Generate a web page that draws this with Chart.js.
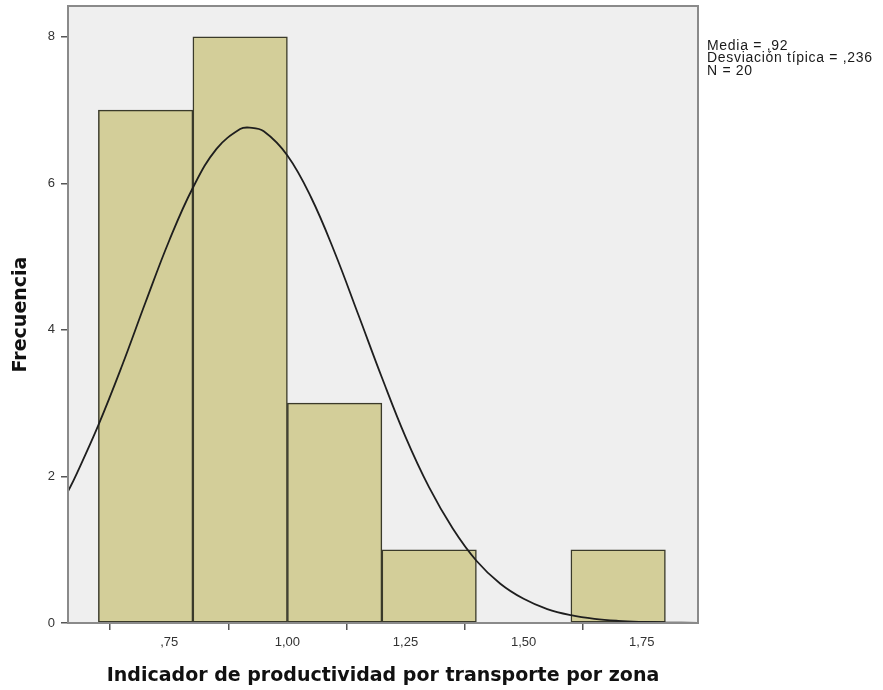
<!DOCTYPE html>
<html>
<head>
<meta charset="utf-8">
<script src="https://cdn.jsdelivr.net/npm/chart.js@4"></script>
<style>
  html, body { margin: 0; padding: 0; background: #ffffff; }
  #wrap { width: 883px; height: 690px; }
</style>
</head>
<body>
<div id="wrap"><canvas id="c" width="883" height="690"></canvas></div>
<script>
// Histogram bins (midpoints) and frequencies
const binMids = [0.7, 0.9, 1.1, 1.3, 1.7];
const binCounts = [7, 8, 3, 1, 1];
const binWidth = 0.2;

// Fitted normal curve, frequency scale
const curveX = [0.536, 0.55, 0.60, 0.65, 0.70, 0.75, 0.80, 0.85, 0.90, 0.92, 0.95, 1.00, 1.05, 1.10, 1.15, 1.20, 1.25, 1.30, 1.35, 1.40, 1.45, 1.50, 1.55, 1.60, 1.65, 1.70, 1.75, 1.80, 1.869];
const curveY = [1.80, 1.98, 2.70, 3.51, 4.38, 5.22, 5.94, 6.47, 6.74, 6.76, 6.71, 6.38, 5.81, 5.06, 4.21, 3.35, 2.54, 1.85, 1.29, 0.85, 0.54, 0.33, 0.19, 0.107, 0.057, 0.029, 0.014, 0.006, 0.002];

// Axis ticks
const xTicks = [0.75, 1.00, 1.25, 1.50, 1.75];
const yTicks = [0, 2, 4, 6, 8];

// Summary statistics
const statsLines = ['Media = ,92', 'Desviación típica = ,236', 'N = 20'];

const fmtComma = v => {
  let s = v.toFixed(2).replace('.', ',');
  if (s.startsWith('0,')) s = s.slice(1);
  return s;
};

const plotFrame = {
  id: 'plotFrame',
  beforeDatasetsDraw(chart) {
    const { ctx, chartArea: a } = chart;
    ctx.save();
    ctx.fillStyle = '#efefef';
    ctx.fillRect(a.left, a.top, a.right - a.left, a.bottom - a.top);
    ctx.restore();
  },
  afterDatasetsDraw(chart) {
    const { ctx, chartArea: a } = chart;
    ctx.save();
    ctx.strokeStyle = '#8a8a8a';
    ctx.lineWidth = 2;
    ctx.strokeRect(a.left, a.top, a.right - a.left, a.bottom - a.top);
    // statistics box text
    ctx.fillStyle = '#1a1a1a';
    ctx.font = '14px "Liberation Sans", Arial, sans-serif';
    ctx.letterSpacing = '0.7px';
    ctx.textBaseline = 'middle';
    ctx.textAlign = 'left';
    statsLines.forEach((t, i) => ctx.fillText(t, a.right + 9, 46 + i * 12.5));
    ctx.restore();
  }
};

new Chart(document.getElementById('c'), {
  data: {
    datasets: [
      {
        type: 'line',
        data: curveX.map((x, i) => ({ x, y: curveY[i] })),
        borderColor: '#1e1e1e',
        borderWidth: 1.8,
        pointRadius: 0,
        tension: 0.4,
        fill: false,
        order: 0
      },
      {
        type: 'bar',
        data: binMids.map((x, i) => ({ x, y: binCounts[i] })),
        backgroundColor: '#d3ce99',
        borderColor: '#3a3a2a',
        borderWidth: 1.5,
        borderSkipped: false,
        barPercentage: 1,
        categoryPercentage: 1,
        order: 1
      }
    ]
  },
  options: {
    responsive: false,
    animation: false,
    layout: { padding: { top: 6, right: 185, left: 0, bottom: 0 } },
    plugins: { legend: { display: false }, tooltip: { enabled: false } },
    scales: {
      x: {
        type: 'linear',
        min: 0.5357,
        max: 1.869,
        offset: false,
        afterBuildTicks(scale) { scale.ticks = xTicks.map(v => ({ value: v })); },
        afterFit(scale) {
          scale.height = 67;
          scale.paddingLeft = 0;
          scale.paddingRight = 0;
        },
        ticks: {
          callback: v => fmtComma(v),
          color: '#333333',
          font: { family: '"Liberation Sans", Arial, sans-serif', size: 13 },
          padding: 5,
          maxRotation: 0,
          autoSkip: false
        },
        grid: { drawOnChartArea: false, tickLength: 7, color: '#555555', lineWidth: 1.5 },
        border: { color: '#777777', width: 2 },
        title: {
          display: true,
          text: 'Indicador de productividad por transporte por zona',
          color: '#111111',
          font: { family: '"DejaVu Sans", Verdana, sans-serif', size: 19, weight: 'bold' },
          padding: { top: 0, bottom: 3 }
        }
      },
      y: {
        type: 'linear',
        min: 0,
        max: 8.42,
        afterBuildTicks(scale) { scale.ticks = yTicks.map(v => ({ value: v })); },
        afterFit(scale) {
          scale.width = 68;
          scale.paddingTop = 0;
          scale.paddingBottom = 0;
        },
        ticks: {
          color: '#333333',
          font: { family: '"Liberation Sans", Arial, sans-serif', size: 13 },
          padding: 6
        },
        grid: { drawOnChartArea: false, tickLength: 7, color: '#555555', lineWidth: 1.5 },
        border: { color: '#777777', width: 2 },
        title: {
          display: true,
          text: 'Frecuencia',
          color: '#111111',
          font: { family: '"DejaVu Sans", Verdana, sans-serif', size: 19, weight: 'bold' },
          padding: { top: 10, bottom: 0 }
        }
      }
    }
  },
  plugins: [plotFrame]
});
</script>
</body>
</html>
